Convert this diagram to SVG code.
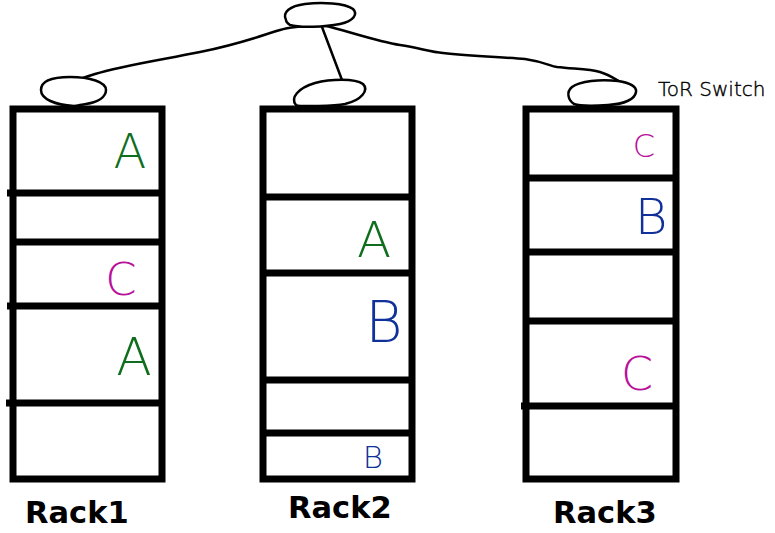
<svg xmlns="http://www.w3.org/2000/svg" width="775" height="533" viewBox="0 0 775 533">
<style>
.rack{fill:none;stroke:#000;stroke-width:7;stroke-linecap:square}
.shelf{stroke:#000;stroke-width:7}
.sw{fill:#fff;stroke:#000;stroke-width:2.5;stroke-linejoin:round}
.wire{fill:none;stroke:#000;stroke-width:2.5;stroke-linecap:round;stroke-linejoin:round}
.lbl{font-family:"DejaVu Sans","Verdana",sans-serif;font-weight:bold;font-size:30.5px;fill:#000}
.hand{font-family:"DejaVu Sans",sans-serif;font-weight:200;text-anchor:middle}
.a{fill:#0f6e1e}.b{fill:#10309a}.c{fill:#b8109a}
.tor{font-family:"DejaVu Sans",sans-serif;font-weight:200;font-size:20px;fill:#000;stroke:#000;stroke-width:0.4}
</style>
<rect width="775" height="533" fill="#fff"/>
<g id="connectors">
<path class="wire" d="M320,25 C300,26 290,27 280,30 C260,36 240,44 200,52 C160,60 120,66 95,74 C85,77 80,79 77,81"/>
<path class="wire" d="M322,27 L342,80"/>
<path class="wire" d="M327,26 C350,32 380,42 400,45 C420,48 430,52 443,53 C470,56 500,57 525,59 C545,62 550,66 557,67 C575,69 590,69 600,72 C610,75 615,79 620,82"/>
</g>
<g id="core-switch">
<path class="sw" d="M286,20 C282,12 290,6 305,4 C322,2 345,3 353,9 C358,14 354,21 340,24 C325,27 300,28 290,25 C287,23 286,22 286,20 Z"/>
</g>
<g id="rack1">
<path class="sw" d="M74,106 C55,105 41,99 41,90 C41,81 52,77 70,77 C90,77 106,82 106,90 C106,97 98,102 86,104 C80,105 76,106 74,106 Z"/>
<rect class="rack" x="13" y="109" width="149" height="370"/>
<line class="shelf" x1="7" y1="193" x2="162" y2="193"/>
<line class="shelf" x1="13" y1="242" x2="162" y2="242"/>
<line class="shelf" x1="7" y1="306" x2="162" y2="306"/>
<line class="shelf" x1="6" y1="403" x2="162" y2="403"/>
<text class="hand a" x="130" y="168" font-size="48">A</text>
<text class="hand c" x="121" y="295" font-size="45">C</text>
<text class="hand a" x="134" y="375" font-size="52">A</text>
<text class="lbl" x="25" y="523">Rack1</text>
</g>
<g id="rack2">
<path class="sw" d="M296,105 C290,98 298,88 315,83 C330,79 355,78 363,84 C369,90 362,100 345,104 C335,106 300,107 296,105 Z"/>
<rect class="rack" x="263" y="109" width="149" height="370"/>
<line class="shelf" x1="260" y1="197" x2="412" y2="197"/>
<line class="shelf" x1="260" y1="273" x2="412" y2="273"/>
<line class="shelf" x1="260" y1="380" x2="412" y2="380"/>
<line class="shelf" x1="263" y1="433" x2="412" y2="433"/>
<text class="hand a" x="374" y="257" font-size="50">A</text>
<text class="hand b" x="384" y="342" font-size="57">B</text>
<text class="hand b" x="373" y="468" font-size="31">B</text>
<text class="lbl" x="288" y="518">Rack2</text>
</g>
<g id="rack3">
<path class="sw" d="M574,104 C568,100 566,92 572,87 C580,81 600,79 618,81 C630,83 637,86 636,92 C635,99 625,104 608,105 C592,106 580,106 574,104 Z"/>
<rect class="rack" x="526" y="109" width="150" height="370"/>
<line class="shelf" x1="526" y1="178" x2="676" y2="178"/>
<line class="shelf" x1="526" y1="252" x2="676" y2="252"/>
<line class="shelf" x1="526" y1="321" x2="676" y2="321"/>
<line class="shelf" x1="521" y1="406" x2="676" y2="406"/>
<text class="hand c" x="644" y="157" font-size="32">C</text>
<text class="hand b" x="651" y="234" font-size="50">B</text>
<text class="hand c" x="637" y="390" font-size="46">C</text>
<text class="lbl" x="553" y="523">Rack3</text>
</g>
<g id="tor-label">
<text class="tor" x="658" y="96">ToR Switch</text>
</g>
</svg>
